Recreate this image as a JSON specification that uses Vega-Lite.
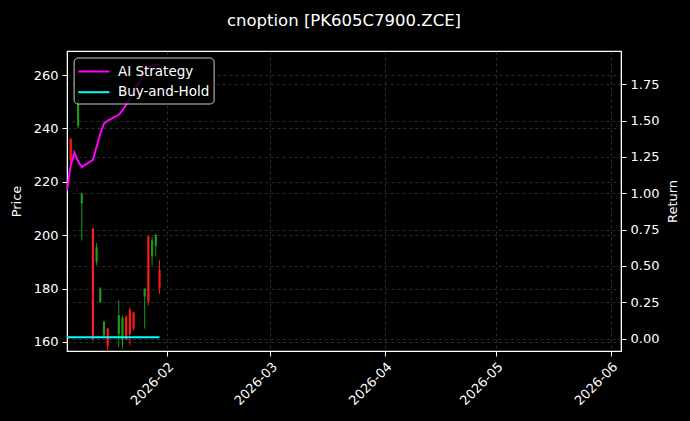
{
  "$schema": "https://vega.github.io/schema/vega-lite/v6.json",
  "width": 554,
  "height": 300,
  "autosize": {"type": "none"},
  "padding": {"left": 67, "top": 51, "right": 69, "bottom": 70},
  "background": "#000000",
  "title": {
    "text": "cnoption [PK605C7900.ZCE]",
    "color": "#ffffff",
    "font": "DejaVu Sans",
    "fontSize": 16.5,
    "fontWeight": "normal",
    "anchor": "middle",
    "offset": 22
  },
  "config": {
    "view": {"stroke": "#ffffff", "strokeWidth": 1.2},
    "font": "DejaVu Sans",
    "axis": {
      "domainColor": "#ffffff",
      "tickColor": "#ffffff",
      "labelColor": "#ffffff",
      "titleColor": "#ffffff",
      "labelFont": "DejaVu Sans",
      "titleFont": "DejaVu Sans",
      "labelFontSize": 13,
      "titleFontSize": 13,
      "titleFontWeight": "normal",
      "tickSize": 5,
      "labelPadding": 4,
      "gridColor": "#8a8a8a",
      "gridOpacity": 0.4,
      "gridDash": [3, 3],
      "gridWidth": 0.8
    },
    "legend": {
      "labelColor": "#ffffff",
      "labelFont": "DejaVu Sans",
      "labelFontSize": 13.5
    }
  },
  "datasets": {
    "candles": [
      {"date": "2026-01-06", "open": 236, "close": 228, "high": 236.5, "low": 226.5},
      {"date": "2026-01-08", "open": 241, "close": 251, "high": 253, "low": 240},
      {"date": "2026-01-09", "open": 212, "close": 215.5, "high": 216, "low": 198},
      {"date": "2026-01-12", "open": 202.5, "close": 161, "high": 202.7, "low": 160.5},
      {"date": "2026-01-13", "open": 190, "close": 195.5, "high": 197, "low": 188.7},
      {"date": "2026-01-14", "open": 175, "close": 180, "high": 180.5, "low": 174.5},
      {"date": "2026-01-15", "open": 162.5, "close": 167.5, "high": 168, "low": 161.9},
      {"date": "2026-01-16", "open": 165, "close": 158.5, "high": 165.2, "low": 156},
      {"date": "2026-01-19", "open": 163, "close": 170, "high": 175.6, "low": 158},
      {"date": "2026-01-20", "open": 160.6, "close": 169, "high": 170, "low": 157.5},
      {"date": "2026-01-21", "open": 169.5, "close": 161, "high": 170, "low": 160.6},
      {"date": "2026-01-22", "open": 172, "close": 163, "high": 173, "low": 158.8},
      {"date": "2026-01-23", "open": 171, "close": 165, "high": 171.2, "low": 164.4},
      {"date": "2026-01-26", "open": 177, "close": 180, "high": 180, "low": 165},
      {"date": "2026-01-27", "open": 199.5, "close": 175, "high": 200, "low": 173.7},
      {"date": "2026-01-28", "open": 192, "close": 198, "high": 199.4, "low": 188.8},
      {"date": "2026-01-29", "open": 196, "close": 200, "high": 200.6, "low": 192},
      {"date": "2026-01-30", "open": 187, "close": 180, "high": 190.6, "low": 178}
    ],
    "returns": [
      {"date": "2026-01-05", "series": "AI Strategy", "ret": 1.02},
      {"date": "2026-01-06", "series": "AI Strategy", "ret": 1.19},
      {"date": "2026-01-07", "series": "AI Strategy", "ret": 1.28},
      {"date": "2026-01-08", "series": "AI Strategy", "ret": 1.22},
      {"date": "2026-01-09", "series": "AI Strategy", "ret": 1.18},
      {"date": "2026-01-12", "series": "AI Strategy", "ret": 1.23},
      {"date": "2026-01-13", "series": "AI Strategy", "ret": 1.32},
      {"date": "2026-01-14", "series": "AI Strategy", "ret": 1.41},
      {"date": "2026-01-15", "series": "AI Strategy", "ret": 1.48},
      {"date": "2026-01-16", "series": "AI Strategy", "ret": 1.5},
      {"date": "2026-01-19", "series": "AI Strategy", "ret": 1.54},
      {"date": "2026-01-20", "series": "AI Strategy", "ret": 1.57},
      {"date": "2026-01-21", "series": "AI Strategy", "ret": 1.61},
      {"date": "2026-01-22", "series": "AI Strategy", "ret": 1.65},
      {"date": "2026-01-23", "series": "AI Strategy", "ret": 1.7},
      {"date": "2026-01-26", "series": "AI Strategy", "ret": 1.83},
      {"date": "2026-01-27", "series": "AI Strategy", "ret": 1.87},
      {"date": "2026-01-28", "series": "AI Strategy", "ret": 1.88},
      {"date": "2026-01-29", "series": "AI Strategy", "ret": 1.885},
      {"date": "2026-01-30", "series": "AI Strategy", "ret": 1.88},
      {"date": "2026-01-05", "series": "Buy-and-Hold", "ret": 0.01},
      {"date": "2026-01-06", "series": "Buy-and-Hold", "ret": 0.01},
      {"date": "2026-01-07", "series": "Buy-and-Hold", "ret": 0.01},
      {"date": "2026-01-08", "series": "Buy-and-Hold", "ret": 0.01},
      {"date": "2026-01-09", "series": "Buy-and-Hold", "ret": 0.01},
      {"date": "2026-01-12", "series": "Buy-and-Hold", "ret": 0.01},
      {"date": "2026-01-13", "series": "Buy-and-Hold", "ret": 0.01},
      {"date": "2026-01-14", "series": "Buy-and-Hold", "ret": 0.01},
      {"date": "2026-01-15", "series": "Buy-and-Hold", "ret": 0.01},
      {"date": "2026-01-16", "series": "Buy-and-Hold", "ret": 0.01},
      {"date": "2026-01-19", "series": "Buy-and-Hold", "ret": 0.01},
      {"date": "2026-01-20", "series": "Buy-and-Hold", "ret": 0.01},
      {"date": "2026-01-21", "series": "Buy-and-Hold", "ret": 0.01},
      {"date": "2026-01-22", "series": "Buy-and-Hold", "ret": 0.01},
      {"date": "2026-01-23", "series": "Buy-and-Hold", "ret": 0.01},
      {"date": "2026-01-26", "series": "Buy-and-Hold", "ret": 0.01},
      {"date": "2026-01-27", "series": "Buy-and-Hold", "ret": 0.01},
      {"date": "2026-01-28", "series": "Buy-and-Hold", "ret": 0.01},
      {"date": "2026-01-29", "series": "Buy-and-Hold", "ret": 0.01},
      {"date": "2026-01-30", "series": "Buy-and-Hold", "ret": 0.01}
    ]
  },
  "encoding": {
    "x": {
      "field": "date",
      "type": "temporal",
      "scale": {
        "type": "utc",
        "padding": 0,
        "domain": [
          {"year": 2026, "month": 1, "date": 5, "utc": true},
          {"year": 2026, "month": 6, "date": 3, "hours": 18, "utc": true}
        ]
      },
      "axis": {
        "title": null,
        "format": "%Y-%m",
        "values": [
          {"year": 2026, "month": 2, "date": 1, "utc": true},
          {"year": 2026, "month": 3, "date": 1, "utc": true},
          {"year": 2026, "month": 4, "date": 1, "utc": true},
          {"year": 2026, "month": 5, "date": 1, "utc": true},
          {"year": 2026, "month": 6, "date": 1, "utc": true}
        ],
        "labelAngle": -45,
        "labelAlign": "right",
        "labelBaseline": "top",
        "labelDx": -6,
        "labelDy": -5,
        "grid": true
      }
    }
  },
  "layer": [
    {
      "data": {"name": "candles"},
      "layer": [
        {
          "mark": {"type": "rule", "strokeWidth": 1, "clip": true},
          "encoding": {
            "y": {
              "field": "low",
              "type": "quantitative",
              "scale": {"domain": [156.6, 269], "nice": false, "zero": false, "padding": 0},
              "axis": {"title": "Price", "values": [160, 180, 200, 220, 240, 260], "grid": true, "titlePadding": 10}
            },
            "y2": {"field": "high"},
            "color": {
              "condition": {"test": "datum.close >= datum.open", "value": "#1c9a1c"},
              "value": "#ff1a1a"
            }
          }
        },
        {
          "mark": {"type": "bar", "size": 2.2, "clip": true},
          "encoding": {
            "y": {"field": "open", "type": "quantitative"},
            "y2": {"field": "close"},
            "color": {
              "condition": {"test": "datum.close >= datum.open", "value": "#1c9a1c"},
              "value": "#ff1a1a"
            }
          }
        }
      ]
    },
    {
      "data": {"name": "returns"},
      "mark": {"type": "line", "strokeWidth": 2, "clip": true},
      "encoding": {
        "y": {
          "field": "ret",
          "type": "quantitative",
          "scale": {"domain": [-0.085, 1.979], "nice": false, "zero": false, "padding": 0},
          "axis": {
            "title": "Return",
            "orient": "right",
            "format": ".2f",
            "values": [0, 0.25, 0.5, 0.75, 1, 1.25, 1.5, 1.75],
            "grid": true,
            "titleAngle": -90,
            "titleBaseline": "top",
            "titlePadding": 8
          }
        },
        "color": {
          "field": "series",
          "type": "nominal",
          "scale": {"domain": ["AI Strategy", "Buy-and-Hold"], "range": ["#ff00ff", "#00ffff"]},
          "legend": {
            "title": null,
            "orient": "none",
            "legendX": 6.6,
            "legendY": 6.5,
            "fillColor": "rgba(0,0,0,0.8)",
            "strokeColor": "#cccccc",
            "cornerRadius": 4,
            "padding": 4,
            "symbolType": "M-1.8,0L1.8,0",
            "symbolStrokeWidth": 2,
            "symbolSize": 300,
            "symbolOffset": 6.3,
            "labelOffset": 14,
            "rowPadding": 3.7
          }
        }
      }
    }
  ],
  "resolve": {"scale": {"y": "independent"}}
}
